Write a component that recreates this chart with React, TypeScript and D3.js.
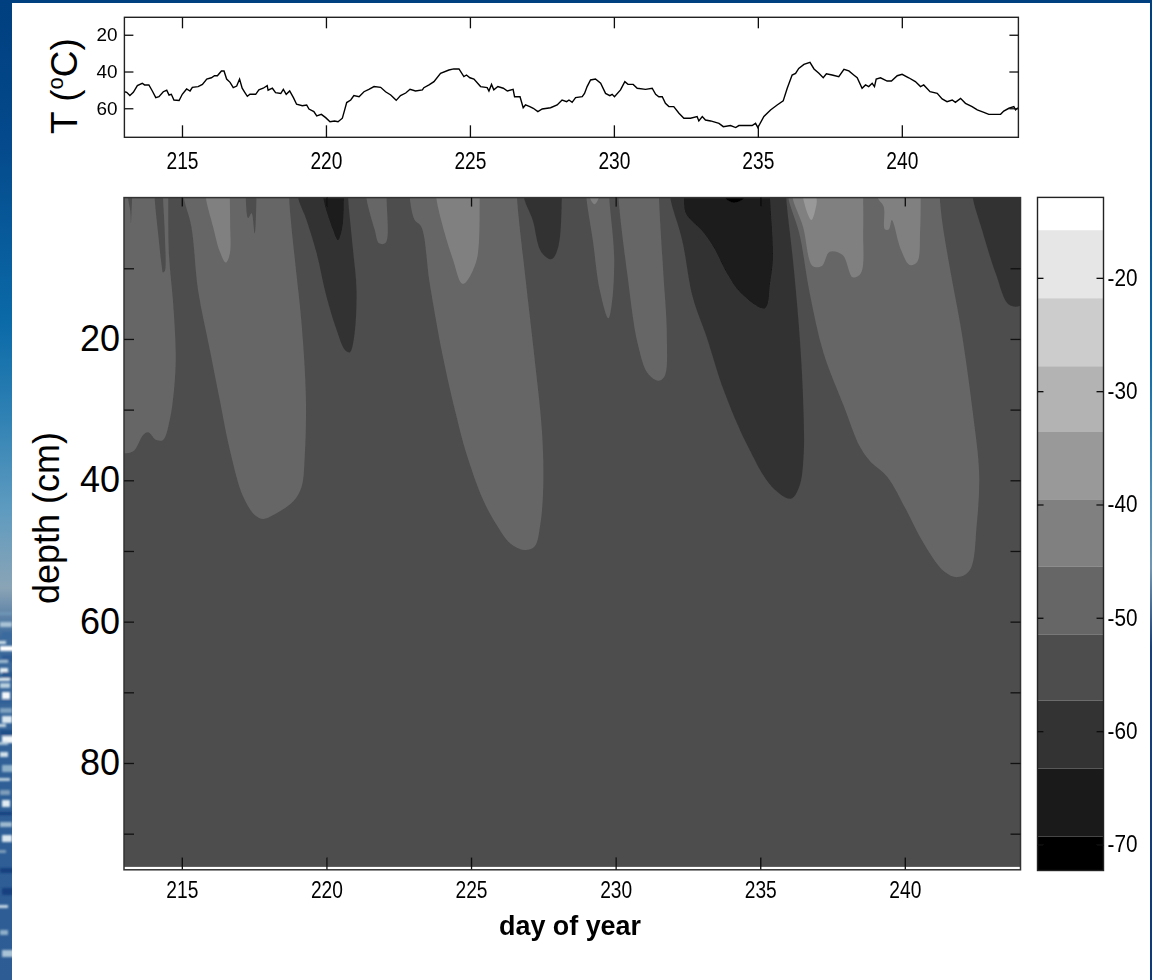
import React, { useEffect, useRef } from 'react';
import * as d3 from 'd3';

type Pt = [number, number];

// surface temperature trace, [day of year, deg C below zero]
const tempTrace: Pt[] = [
  [213, 51], [213.08, 51.3], [213.19, 53.1], [213.31, 51.3], [213.45, 47.7], [213.62, 46.4], [213.7, 47.3], [213.85, 47.3],
  [213.97, 50.6], [214.09, 54.2], [214.2, 53.7], [214.35, 51], [214.47, 50.2], [214.55, 52.8], [214.63, 52.4], [214.72, 55.5],
  [214.9, 55.8], [215.01, 52.4], [215.16, 49.5], [215.28, 50.6], [215.36, 48.6], [215.56, 48.2], [215.71, 47], [215.86, 44.1],
  [216.02, 43.4], [216.13, 42.3], [216.23, 42.3], [216.37, 39.7], [216.46, 39.7], [216.55, 44.1], [216.67, 45.9], [216.78, 48.8],
  [216.9, 47.9], [217, 44.1], [217.09, 49.1], [217.18, 51.3], [217.27, 53.5], [217.36, 52.4], [217.56, 52.4], [217.67, 50],
  [217.82, 49.1], [217.96, 47.7], [217.99, 50.2], [218.14, 49.1], [218.25, 51.5], [218.43, 52], [218.52, 49.7], [218.62, 52.4],
  [218.74, 50.6], [218.87, 54.2], [218.98, 57.8], [219.18, 58.6], [219.33, 58.2], [219.41, 60.4], [219.58, 61.8], [219.68, 64.2],
  [219.84, 63.3], [219.99, 65.1], [220.14, 67.3], [220.3, 66.9], [220.42, 67.3], [220.57, 65.4], [220.65, 60.9], [220.72, 56.9],
  [220.86, 55.5], [220.97, 53.1], [221.15, 53.7], [221.32, 51], [221.49, 49.7], [221.67, 48.2], [221.9, 48.6], [222.07, 51],
  [222.25, 52.8], [222.44, 55.7], [222.59, 53.1], [222.77, 51.7], [222.92, 49.7], [223.11, 50.6], [223.35, 50], [223.4, 48.8],
  [223.58, 47.3], [223.75, 45.5], [223.98, 41], [224.27, 39.2], [224.44, 38.6], [224.62, 38.6], [224.79, 42.8], [224.88, 41.9],
  [225, 43.4], [225.14, 44.1], [225.37, 48.2], [225.6, 48.8], [225.66, 50.6], [225.75, 47], [225.83, 50], [225.97, 48.2],
  [226.16, 49.1], [226.3, 50.6], [226.5, 49.7], [226.55, 53.7], [226.74, 53.7], [226.85, 59.7], [226.93, 58.2], [227.08, 59.1],
  [227.2, 60], [227.36, 61.8], [227.51, 60.4], [227.8, 59.7], [228.03, 58.2], [228.2, 55.5], [228.36, 56.4], [228.44, 55.5],
  [228.55, 56.8], [228.67, 54.2], [228.9, 53.7], [228.98, 51.9], [229.07, 48.2], [229.19, 44.6], [229.36, 44.1], [229.54, 46.4],
  [229.71, 51.9], [229.86, 53.1], [229.94, 52.4], [230.02, 53.7], [230.23, 50], [230.38, 45.5], [230.49, 47], [230.67, 47],
  [230.81, 49.1], [231.1, 49.7], [231.33, 49.1], [231.45, 52.4], [231.56, 53.7], [231.68, 53.7], [231.79, 57.3], [231.91, 59.1],
  [232.08, 59.1], [232.26, 62.7], [232.43, 65.4], [232.66, 65.4], [232.89, 64.5], [232.95, 66.9], [233.07, 64.5], [233.18, 66.4],
  [233.36, 66.9], [233.65, 68.2], [233.8, 70], [234.05, 69.4], [234.23, 70.5], [234.34, 69.4], [234.8, 69.4], [234.92, 68.2],
  [235, 70.5], [235.21, 64.5], [235.44, 60.9], [235.67, 58.2], [235.88, 56], [236.02, 49.1], [236.19, 41.9], [236.31, 41],
  [236.42, 38.3], [236.6, 36.1], [236.81, 35], [236.95, 38.6], [237.12, 41], [237.27, 43.4], [237.38, 41.2], [237.58, 41.9],
  [237.81, 42.8], [237.99, 38.8], [238.16, 39.7], [238.33, 41.9], [238.45, 43.4], [238.62, 49.1], [238.74, 47.3], [238.85, 48.2],
  [238.97, 46.4], [239.05, 48.2], [239.11, 44.1], [239.26, 43.4], [239.49, 45.2], [239.64, 45.2], [239.84, 42.3], [240.01, 41.5],
  [240.24, 43.4], [240.47, 45.5], [240.65, 48.2], [240.76, 47.3], [240.98, 51], [241.23, 51.9], [241.4, 54.9], [241.57, 56.4],
  [241.75, 55.5], [241.86, 56.8], [242.04, 54.6], [242.21, 57.3], [242.44, 59.1], [242.62, 60.9], [242.85, 62.2], [243.02, 63.3],
  [243.25, 63.3], [243.43, 63.3], [243.54, 61.5], [243.72, 60], [243.89, 59.1], [243.95, 60.9], [244.03, 59.7],
];

const dayTicks = [215, 220, 225, 230, 235, 240];
const tempTicks = [20, 40, 60];
const depthTicks = [10, 20, 30, 40, 50, 60, 70, 80, 90];
const depthLabels = [20, 40, 60, 80];
const barTicks = [-20, -30, -40, -50, -60, -70];

// colorbar bands, MATLAB gray(11)
const levelEdges = [-69.3, -63.3, -57.3, -51.5, -45.5, -39.6, -33.6, -27.8, -21.8, -15.8];
const levelGrays = ['#000000', '#1a1a1a', '#333333', '#4d4d4d', '#666666', '#808080', '#999999', '#b3b3b3', '#cccccc', '#e6e6e6', '#ffffff'];

// contour outlines, [day of year, depth cm], top edge to tip and back
const tongue1: Pt[] = [[212.9, 0], [212.9, 35.9], [213.32, 35.9], [213.66, 33.6], [213.83, 33.2], [214.12, 34.3], [214.35, 34.3], [214.58, 31.5], [214.73, 27.2], [214.79, 22.5], [214.7, 14.95], [214.56, 8.35], [214.53, 0]];
const stripe1a: Pt[] = [[213.14, 0], [213.22, 2], [213.24, 3.6], [213.26, 2], [213.28, 0]];
const stripe1b: Pt[] = [[214.06, 0], [214.18, 5.05], [214.3, 9.53], [214.35, 10.6], [214.41, 10.4], [214.41, 5.05], [214.35, 0]];
const tongue2: Pt[] = [[215.07, 0], [215.33, 4.11], [215.56, 13.07], [215.97, 21.56], [216.31, 28.6], [216.66, 35.7], [217.12, 42.3], [217.52, 44.9], [217.81, 45.46], [218.16, 44.9], [218.85, 43], [219.14, 40.9], [219.25, 36.6], [219.29, 28.2], [219.14, 17.8], [218.96, 10.7], [218.79, 4.11], [218.71, 0]];
const stripe2: Pt[] = [[217.21, 0], [217.29, 2.9], [217.41, 2.2], [217.52, 5.05], [217.58, 0]];
const light2: Pt[] = [[215.83, 0], [216.08, 4.11], [216.31, 7.6], [216.52, 9.2], [216.66, 7.9], [216.67, 3.64], [216.66, 0]];
const dark3: Pt[] = [[219.02, 0], [219.31, 3.17], [219.66, 7.88], [220, 14], [220.35, 18.7], [220.64, 21.56], [220.81, 21.9], [220.96, 19.67], [221.04, 13.07], [220.92, 7.41], [220.75, 0]];
const darker3: Pt[] = [[219.89, 0], [220.23, 4.58], [220.4, 6], [220.55, 4.11], [220.6, 0]];
const tongue4: Pt[] = [[221.38, 0], [221.67, 4.58], [221.82, 6.47], [222.05, 6.4], [222.08, 0]];
const tongue5: Pt[] = [[222.88, 0], [223.05, 3.17], [223.28, 4.11], [223.57, 12.13], [224.03, 22.56], [224.5, 31], [224.84, 36.2], [225.42, 42.8], [225.9, 46.4], [226.35, 48.9], [226.83, 49.85], [227.19, 49.4], [227.4, 46.1], [227.5, 40.4], [227.45, 32.9], [227.19, 22.5], [226.89, 11.65], [226.59, 0]];
const light5: Pt[] = [[223.8, 0], [224.09, 5.05], [224.38, 8.83], [224.67, 12.13], [224.78, 12.13], [225.07, 10.24], [225.24, 7.88], [225.3, 0]];
const dark6: Pt[] = [[226.83, 0], [227.13, 3.17], [227.42, 7.65], [227.78, 8.73], [228.02, 6.94], [228.14, 0]];
const tongue7: Pt[] = [[228.99, 0], [229.21, 6], [229.45, 13.07], [229.75, 17.08], [229.87, 14.95], [229.95, 8.35], [229.78, 0]];
const light7: Pt[] = [[229.11, 0], [229.27, 0.95], [229.42, 0]];
const tongue8: Pt[] = [[230.1, 0], [230.4, 10.7], [230.76, 20.6], [231.11, 24.86], [231.47, 25.9], [231.69, 25.3], [231.77, 19.2], [231.65, 10.7], [231.5, 0]];
const dark9: Pt[] = [[231.89, 0], [232.3, 6], [232.66, 14], [233.14, 19.67], [233.73, 27.2], [234.57, 35.2], [235.4, 40.9], [236.06, 42.6], [236.35, 40.9], [236.5, 36.6], [236.47, 27.2], [236.33, 17.8], [236.12, 8.35], [235.9, 0]];
const darker9: Pt[] = [[232.37, 0], [232.43, 2.2], [233.02, 4.82], [233.38, 6.94], [233.85, 10.7], [234.33, 13.5], [235.16, 15.66], [235.34, 12.1], [235.44, 8.35], [235.34, 0]];
const black9: Pt[] = [[233.8, 0], [234.1, 0.7], [234.45, 0]];
const tongue10: Pt[] = [[235.97, 0], [236.35, 5.05], [236.71, 13.5], [237.19, 22], [237.9, 29.6], [238.44, 35.2], [238.8, 37.3], [239.39, 39.5], [240.05, 44.2], [240.58, 48.4], [241.36, 52.9], [241.83, 53.7], [242.25, 52.7], [242.49, 46.1], [242.57, 39], [242.37, 31], [241.95, 18.7], [241.59, 10.7], [241.3, 3.64], [241.21, 0]];
const light10a: Pt[] = [[236.12, 0], [236.48, 4.11], [236.81, 9.67], [237.13, 9.67], [237.4, 7.65], [237.85, 8.12], [238.2, 11.28], [238.48, 10.7], [238.56, 4.58], [238.56, 0]];
const light10b: Pt[] = [[239.06, 0], [239.27, 1.28], [239.31, 4.49], [239.45, 4.49], [239.55, 3.17], [239.87, 7.41], [240.17, 9.53], [240.43, 9.06], [240.53, 4.58], [240.55, 0]];
const lighter10: Pt[] = [[236.48, 0], [236.77, 3.17], [236.95, 0.8], [236.95, 0]];
const dark11: Pt[] = [[242.35, 0], [242.67, 4.58], [243.14, 10.7], [243.62, 15.2], [244.1, 15], [244.1, 0]];

// painted back to front, each one takes the band colour of its value
const contourLayers: { value: number; shapes: Pt[][] }[] = [
  { value: -48, shapes: [tongue1, tongue2, tongue4, tongue5, tongue7, tongue8, tongue10] },
  { value: -54, shapes: [stripe1a, stripe1b, stripe2] },
  { value: -42, shapes: [light2, light5, light7, light10a, light10b] },
  { value: -36, shapes: [lighter10] },
  { value: -60, shapes: [dark3, dark6, dark9, dark11] },
  { value: -66, shapes: [darker3, darker9] },
  { value: -71, shapes: [black9] },
];
const baseValue = -54;
const soilBottom = 94.7;

const iceStreaks = [612, 622, 632, 641, 646, 655, 660, 668, 672, 678, 683, 692, 700, 708, 716, 724, 730, 736, 742, 752, 765, 778, 790, 800, 812, 822, 835, 850, 868, 888, 905, 930, 950];
const iceShades = ['#6f95b5', '#a9c3d6', '#3b6a9e', '#cfe0ea', '#ffffff', '#2d5c94', '#9fbcd2', '#e8f1f5', '#2a5a90', '#dfeaf0', '#b8cfde', '#f4f8fa', '#2f5f96', '#7fa2c0', '#dce8ef', '#c6d8e4', '#1f4f88', '#eef4f7', '#a9c3d6', '#d3e2eb', '#8fb0c9', '#bdd0dd', '#7f9dba', '#e2ecf2', '#16407f', '#9db9cf', '#dbe7ee', '#7f9dba', '#16407f', '#16407f', '#c6d8e4', '#8fb0c9', '#a9c3d6'];

const ink = '#000';

function styleAxis(g: any, fontSize: number, labelWidth: (s: string) => number) {
  g.select('.domain').remove();
  g.selectAll('.tick line').attr('stroke', '#111').attr('stroke-width', 1.3);
  g.selectAll('.tick text')
    .attr('fill', ink)
    .attr('font-family', '"Liberation Sans", Arial, sans-serif')
    .attr('font-size', fontSize)
    .each(function (this: any) {
      const w = labelWidth(this.textContent);
      if (w) d3.select(this).attr('textLength', w).attr('lengthAdjust', 'spacingAndGlyphs');
    });
}

export default function App() {
  const ref = useRef<SVGSVGElement>(null);

  useEffect(() => {
    const svg = d3.select(ref.current);
    svg.selectAll('*').remove();

    const defs = svg.append('defs');
    const grad = defs.append('linearGradient').attr('id', 'slide').attr('x1', 0).attr('x2', 0).attr('y1', 0).attr('y2', 1);
    [[0, '#003f80'], [0.15, '#044a8c'], [0.33, '#0b6aa8'], [0.42, '#2d80b3'], [0.52, '#5e9bc0'], [0.6, '#8aa4b6'], [0.65, '#3f6b9c'], [0.8, '#2f5f96'], [1, '#2d5c94']]
      .forEach(([o, c]) => grad.append('stop').attr('offset', o as number).attr('stop-color', c as string));
    const gradR = defs.append('linearGradient').attr('id', 'slideR').attr('x1', 0).attr('x2', 0).attr('y1', 0).attr('y2', 1);
    [[0, '#003f80'], [0.2, '#05508f'], [0.36, '#0b6aa8'], [0.5, '#4d8fb8'], [0.58, '#6f97b4'], [0.66, '#173f7e'], [1, '#0e3a7a']]
      .forEach(([o, c]) => gradR.append('stop').attr('offset', o as number).attr('stop-color', c as string));
    defs.append('filter').attr('id', 'soft').append('feGaussianBlur').attr('stdDeviation', 0.6);
    defs.append('filter').attr('id', 'softText').append('feGaussianBlur').attr('stdDeviation', 0.35);
    defs.append('filter').attr('id', 'softIce').attr('x', '-20%').attr('width', '140%').append('feGaussianBlur').attr('stdDeviation', 0.9);
    defs.append('clipPath').attr('id', 'leftStrip').append('rect').attr('width', 12).attr('height', 980);

    // slide background around the white panel
    svg.append('rect').attr('width', 1152).attr('height', 980).attr('fill', '#fff');
    svg.append('rect').attr('width', 1152).attr('height', 3).attr('fill', '#003f80');
    svg.append('rect').attr('width', 12).attr('height', 980).attr('fill', 'url(#slide)');
    svg.append('rect').attr('x', 1150).attr('width', 2).attr('height', 980).attr('fill', 'url(#slideR)');
    svg.append('g').attr('clip-path', 'url(#leftStrip)').append('g').attr('filter', 'url(#softIce)')
      .selectAll('rect').data(iceStreaks).join('rect')
      .attr('x', (_, i) => (i % 3) * 2 - 2).attr('y', d => d)
      .attr('width', (_, i) => 14 - (i % 4) * 2).attr('height', (_, i) => 3 + (i % 3) * 2)
      .attr('fill', (_, i) => iceShades[i]);

    const plotLeft = 124, plotRight = 1020.5;
    const topX = d3.scaleLinear().domain([213, 244]).range([124.4, 1017]);
    const topY = d3.scaleLinear().domain([10.5, 75.8]).range([17.3, 137.3]);
    const x = d3.scaleLinear().domain([213, 244]).range([plotLeft, plotRight]);
    const y = d3.scaleLinear().domain([0, 95]).range([197.6, 869]);
    const barY = d3.scaleLinear().domain([-12.9, -72.3]).range([197.4, 870.5]);
    const color = d3.scaleThreshold<number, string>().domain(levelEdges).range(levelGrays);

    // top panel: temperature trace
    const top = svg.append('g');
    const traceLine = d3.line<Pt>().x(d => topX(d[0])).y(d => topY(d[1]));
    top.append('clipPath').attr('id', 'topClip').append('rect').attr('x', 124.4).attr('y', 17.3).attr('width', 894).attr('height', 120);
    top.append('path').datum(tempTrace).attr('d', traceLine).attr('fill', 'none').attr('stroke', '#000').attr('stroke-width', 1.4).attr('clip-path', 'url(#topClip)').attr('filter', 'url(#softText)');
    top.append('rect').attr('x', 124.4).attr('y', 17.3).attr('width', 894).attr('height', 120).attr('fill', 'none').attr('stroke', '#222').attr('stroke-width', 1.4);

    const topAxes = top.append('g').attr('filter', 'url(#softText)');
    topAxes.append('g').attr('transform', 'translate(0,137.3)')
      .call(d3.axisBottom(topX).tickValues(dayTicks).tickSize(-12).tickPadding(15).tickFormat(d3.format('d')) as any)
      .call(styleAxis, 24, () => 32);
    topAxes.append('g').attr('transform', 'translate(0,17.3)')
      .call(d3.axisTop(topX).tickValues(dayTicks).tickSize(-11).tickFormat(() => '') as any)
      .call(styleAxis, 10, () => 0);
    topAxes.append('g').attr('transform', 'translate(124.4,0)')
      .call(d3.axisLeft(topY).tickValues(tempTicks).tickSize(-9).tickPadding(7).tickFormat(d3.format('d')) as any)
      .call(styleAxis, 18, () => 21);
    topAxes.append('g').attr('transform', 'translate(1018.4,0)')
      .call(d3.axisRight(topY).tickValues(tempTicks).tickSize(-9).tickFormat(() => '') as any)
      .call(styleAxis, 10, () => 0);

    const tempLabel = svg.append('text').attr('transform', 'translate(77,86) rotate(-90)')
      .attr('text-anchor', 'middle').attr('font-family', '"Liberation Sans", Arial, sans-serif').attr('font-size', 37).attr('fill', '#000');
    tempLabel.append('tspan').text('T (');
    tempLabel.append('tspan').attr('font-size', 22).attr('dy', -14).text('o');
    tempLabel.append('tspan').attr('dy', 14).text('C)');

    // main panel: filled contours of soil temperature
    const main = svg.append('g');
    main.append('clipPath').attr('id', 'mainClip').append('rect')
      .attr('x', plotLeft).attr('y', y(0)).attr('width', plotRight - plotLeft).attr('height', y(soilBottom) - y(0));
    const field = main.append('g').attr('clip-path', 'url(#mainClip)').append('g').attr('filter', 'url(#soft)');
    field.append('rect').attr('x', plotLeft - 5).attr('y', y(0) - 5).attr('width', plotRight - plotLeft + 10).attr('height', y(soilBottom) - y(0) + 5).attr('fill', color(baseValue));

    const outline = d3.line<Pt>().x(d => x(d[0])).y(d => y(d[1])).curve(d3.curveCatmullRom.alpha(0.5));
    contourLayers.forEach(layer => {
      field.append('g').selectAll('path').data(layer.shapes).join('path')
        .attr('d', d => {
          // start and finish above the top edge so the blur doesn't fade there
          const pts: Pt[] = [[d[0][0], -2], ...d, [d[d.length - 1][0], -2]];
          return outline(pts) + 'Z';
        })
        .attr('fill', color(layer.value));
    });

    main.append('rect').attr('x', plotLeft).attr('y', y(0)).attr('width', plotRight - plotLeft).attr('height', 869.8 - y(0))
      .attr('fill', 'none').attr('stroke', '#333').attr('stroke-width', 1.5);

    const mainAxes = main.append('g').attr('filter', 'url(#softText)');
    mainAxes.append('g').attr('transform', 'translate(0,869.5)')
      .call(d3.axisBottom(x).tickValues(dayTicks).tickSize(-12).tickPadding(11).tickFormat(d3.format('d')) as any)
      .call(styleAxis, 24, () => 32);
    mainAxes.append('g').attr('transform', 'translate(0,197.6)')
      .call(d3.axisTop(x).tickValues(dayTicks).tickSize(-9).tickFormat(() => '') as any)
      .call(styleAxis, 10, () => 0);
    main.append('g').attr('transform', `translate(${plotLeft},0)`)
      .call(d3.axisLeft(y).tickValues(depthTicks).tickSize(-10).tickPadding(4)
        .tickFormat(d => (depthLabels.includes(d as number) ? String(d) : '')) as any)
      .call(styleAxis, 36, () => 0);
    main.append('g').attr('transform', `translate(${plotRight},0)`)
      .call(d3.axisRight(y).tickValues(depthTicks).tickSize(-10).tickFormat(() => '') as any)
      .call(styleAxis, 10, () => 0);

    svg.append('text').attr('transform', 'translate(59,518) rotate(-90)')
      .attr('text-anchor', 'middle').attr('font-family', '"Liberation Sans", Arial, sans-serif').attr('font-size', 36).attr('fill', '#000')
      .text('depth (cm)');
    svg.append('text').attr('x', 570).attr('y', 935).attr('text-anchor', 'middle')
      .attr('font-family', '"Liberation Sans", Arial, sans-serif').attr('font-size', 27).attr('font-weight', 700).attr('fill', '#000')
      .attr('textLength', 142).attr('lengthAdjust', 'spacingAndGlyphs').attr('filter', 'url(#softText)')
      .text('day of year');

    // colorbar
    const barLeft = 1037.5, barRight = 1103.5;
    const bar = svg.append('g');
    const edgesDown = [...levelEdges].reverse();
    const bandTops = [barY.domain()[0], ...edgesDown];
    const bandBottoms = [...edgesDown, barY.domain()[1]];
    const bandGrays = [...levelGrays].reverse();
    bar.selectAll('rect.band').data(bandGrays).join('rect').attr('class', 'band')
      .attr('x', barLeft).attr('width', barRight - barLeft)
      .attr('y', (_, i) => barY(bandTops[i]))
      .attr('height', (_, i) => barY(bandBottoms[i]) - barY(bandTops[i]))
      .attr('fill', d => d);
    bar.append('rect').attr('x', barLeft).attr('y', 197.4).attr('width', barRight - barLeft).attr('height', 673.1)
      .attr('fill', 'none').attr('stroke', '#222').attr('stroke-width', 1.4);
    const barAxes = bar.append('g').attr('filter', 'url(#softText)');
    barAxes.append('g').attr('transform', `translate(${barRight},0)`)
      .call(d3.axisRight(barY).tickValues(barTicks).tickSize(-7).tickPadding(4).tickFormat(d3.format('d')) as any)
      .call(styleAxis, 23, () => 30);
    barAxes.selectAll('.tick text').text(function (this: any) { return this.textContent.replace('\u2212', '-'); });
    barAxes.append('g').attr('transform', `translate(${barLeft},0)`)
      .call(d3.axisLeft(barY).tickValues(barTicks).tickSize(-6).tickFormat(() => '') as any)
      .call(styleAxis, 10, () => 0);
  }, []);

  return <svg ref={ref} width={1152} height={980} style={{ position: 'absolute', left: 0, top: 0, display: 'block' }} />;
}
